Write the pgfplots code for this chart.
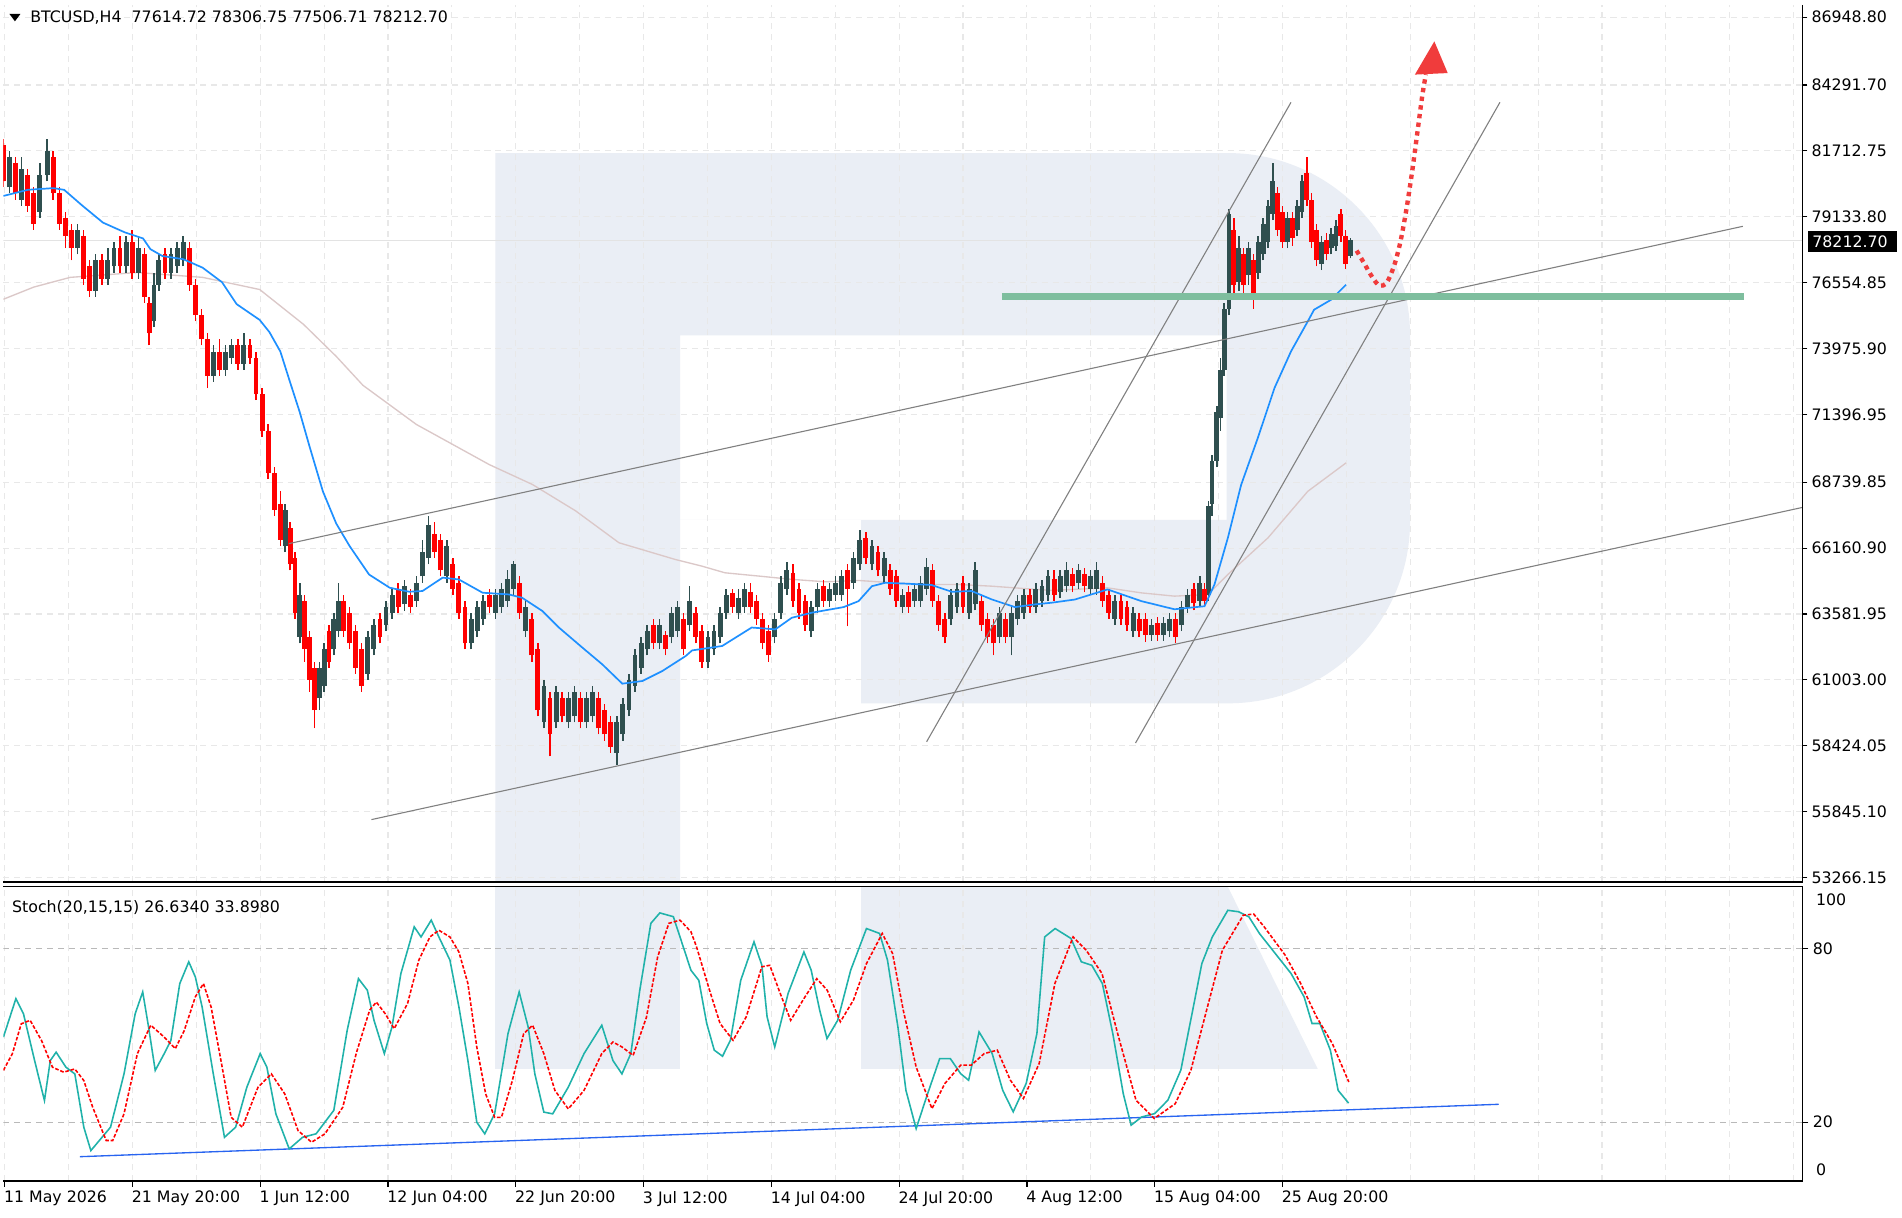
\documentclass[border=0pt]{standalone}
\usepackage{fontspec}
\setmainfont{DejaVu Sans}
\usepackage{pgfplots}
\usepackage{pgfplotstable}
\pgfplotsset{compat=1.18}
\definecolor{bull}{RGB}{47,79,79}
\definecolor{bear}{RGB}{255,0,0}
\definecolor{wm}{RGB}{234,238,245}
\definecolor{ema}{RGB}{30,144,255}
\definecolor{sma}{RGB}{219,200,200}
\definecolor{kline}{RGB}{32,178,170}
\definecolor{lvl}{RGB}{40,100,240}
\definecolor{sup}{RGB}{126,190,158}
\definecolor{grd}{RGB}{232,232,232}
\definecolor{fc}{RGB}{240,60,60}
\definecolor{tl}{RGB}{128,128,128}

\pgfplotstableread{
x o h l c
0 81949 82187 80283 80521
5 80283 81711 80045 81473
10 81235 81473 79807 80045
15 79807 81473 79569 80997
20 80759 80997 79331 79569
25 80045 80283 78617 78855
30 79331 81235 79093 80759
36 80759 82187 80521 81711
41 81473 81711 79807 80045
46 80045 80283 78617 78855
51 79093 79331 77903 78379
56 78617 78855 77427 77903
61 77903 78855 77665 78617
66 78379 78617 76475 76713
71 77189 77427 75999 76237
76 76237 77665 75999 77427
81 77427 77665 76475 76713
86 76713 77903 76475 77427
91 77189 78141 76951 77903
96 77903 78379 76951 77189
101 77189 78379 76951 78141
106 78141 78617 76713 76951
111 76951 78379 76713 77903
116 77665 77903 75761 75999
120 75761 75999 74095 74571
124 75047 76951 74809 76475
128 76475 77665 76237 77427
133 77665 77903 76713 76951
138 76951 77903 76713 77665
143 77189 78141 76951 77903
148 77427 78379 77189 78141
153 77903 78141 76237 76475
158 76475 76713 75047 75285
163 75285 75523 74095 74333
168 74333 74571 72429 72905
173 72905 74095 72667 73857
178 73857 74333 72905 73143
183 73143 74095 72905 73857
188 73619 74333 73381 74095
193 74095 74333 73143 73381
198 73381 74571 73143 74095
203 74095 74333 73381 73619
208 73619 73857 71953 72191
213 72191 72429 70525 70763
218 70763 71001 68859 69097
223 69097 69335 67431 67669
228 67907 68383 66241 66479
232 66241 67907 66003 67669
236 66955 67193 65289 65527
240 65765 66003 63385 63623
244 62671 64813 62433 64337
248 64099 64337 61719 62195
252 62671 62909 60529 61005
256 61481 61719 59101 59815
260 60291 61719 59815 61481
264 60767 62433 60529 62195
268 62909 63147 61481 61719
272 62195 63623 61957 63385
276 62909 64813 62671 64099
280 64099 64337 62671 62909
285 63623 63861 62195 62433
290 62909 63147 61243 61481
295 62195 62433 60529 60767
300 61243 62909 61005 62671
305 62195 63385 61957 63147
310 63385 63623 62433 62671
315 63147 64099 62909 63861
320 63623 64575 63385 64337
325 64575 64813 63623 63861
330 63955 64900 63700 64670
335 64337 64575 63623 63861
340 64099 65051 63861 64813
345 65051 66479 64813 66003
350 65765 67431 65527 67074
355 66717 67193 65765 66003
360 66479 66717 65051 65289
365 65051 66479 64813 66241
370 65527 65765 64337 64575
375 64813 65051 63385 63623
380 63861 64099 62195 62433
385 62433 63623 62195 63385
390 62909 64099 62671 63861
395 63385 64337 63147 64099
400 64337 64575 63623 63861
405 63623 64575 63385 64337
410 63861 64813 63623 64575
415 64099 65289 63861 64956
420 64575 65650 64337 65527
425 64813 65051 63385 63623
430 62909 64099 62671 63861
435 63385 63623 61719 61957
440 62195 62433 59577 59815
445 59339 61005 59101 60767
450 60291 60529 58006 58863
455 59339 60767 59101 60529
460 60291 60529 59339 59577
465 59339 60529 59101 60291
470 59577 60767 59339 60529
475 60291 60529 59101 59339
480 59339 60529 59101 60291
485 59577 60767 59339 60529
490 60291 60529 58863 59101
495 59815 60053 58625 58863
500 59339 59577 58149 58387
505 58149 59577 57673 59339
510 58863 60291 58625 60053
515 59815 61243 59577 61005
520 60767 62195 60529 61957
525 61481 62671 61243 62433
530 62195 63147 61957 62909
535 63147 63385 62195 62433
540 62433 63385 62195 63147
545 62750 62909 61957 62195
550 62671 63861 62433 63623
555 62909 64099 62671 63861
560 63385 63623 61957 62195
565 63147 64670 62909 64099
570 63623 63861 62433 62671
575 62909 63147 61481 61719
580 61719 62909 61481 62671
585 62195 63147 61957 62909
590 62671 63861 62433 63623
595 63623 64575 63385 64337
600 64400 64575 63623 63861
605 63623 64575 63385 64200
610 63861 64813 63623 64575
615 64450 64813 63623 63861
620 64099 64337 63147 63385
625 63385 63623 62195 62433
630 62909 63147 61719 61957
635 62671 63623 62433 63385
640 63623 65051 63385 64813
645 64575 65622 64337 65289
650 65200 65527 63861 64099
655 64575 64813 63385 63623
660 64099 64337 62909 63147
665 62909 64099 62671 63861
670 63861 64813 63623 64575
675 64670 64900 63861 64099
680 64099 64813 63861 64575
685 64337 65051 64099 64813
690 64337 65289 64099 65051
695 65289 65527 63100 64575
700 64813 66003 64575 65765
705 65527 66867 65289 66479
710 66574 66800 65527 65765
715 65527 66479 65289 66241
720 66003 66241 65051 65289
725 65051 66003 64813 65765
730 65289 65527 64337 64575
735 65051 65289 63861 64099
740 63861 64575 63623 64337
745 64430 64670 63623 63861
750 64099 64813 63861 64575
755 64099 65051 63861 64813
760 64575 65765 64337 65432
765 65289 65527 63861 64099
770 64099 64337 62909 63147
775 63385 63623 62433 62671
780 63385 64575 63147 64337
785 63861 64813 63623 64575
790 64813 65051 63623 63861
795 63623 64813 63385 64575
800 63957 65622 63720 65289
805 64099 64337 62909 63147
810 63385 63623 62433 62671
815 63147 63385 61957 62433
820 62671 63861 62433 63623
825 63385 63623 62433 62671
830 62671 63861 61957 63623
835 63385 64337 63147 64099
840 63623 64575 63385 64337
845 64337 64575 63623 63861
850 63861 64813 63623 64575
855 64099 64900 63861 64670
860 64337 65289 64099 65051
865 64956 65289 64099 64337
870 64432 65289 64200 65051
875 64670 65622 64432 65289
880 65146 65400 64432 64670
885 64813 65527 64575 65289
890 65146 65400 64432 64670
895 64575 65289 64337 65051
900 64575 65622 64337 65289
905 64813 65051 63861 64099
910 64337 64575 63385 63623
915 63385 64337 63147 64099
920 64099 64337 63147 63385
925 63861 64099 62909 63147
930 62909 63861 62671 63623
935 63385 63623 62671 62909
940 63385 63623 62480 62770
945 62770 63385 62530 63147
950 63240 63480 62530 62770
955 62770 63480 62530 63240
960 62909 63623 62671 63385
965 63385 63623 62433 62671
970 63147 64099 62909 63861
975 63861 64575 63623 64337
980 64575 64813 63720 64000
985 64099 65051 63861 64813
989 64575 64813 63861 64099
992 64337 68000 64099 67812
995 67907 69811 67431 69573
999 69573 71715 69335 71477
1002 71239 73619 70763 73143
1005 73143 75761 72905 75523
1009 75523 79426 75285 79236
1013 78617 79093 75999 76475
1017 76570 78379 76237 77903
1021 77665 77903 75999 76475
1025 76855 78141 76475 77903
1029 77427 77665 75523 75999
1033 76951 78379 76713 78141
1037 77665 79093 77427 78855
1041 78141 79807 77903 79569
1045 79236 81235 78998 80521
1049 80045 80283 78379 78617
1053 79331 79569 77903 78141
1057 78141 79331 77903 79093
1061 79093 79331 78000 78284
1065 78617 79807 78379 79569
1069 79331 80759 79093 80521
1073 80854 81473 79569 79807
1077 79807 80045 77903 78141
1081 78617 78855 77189 77427
1085 77284 78379 77046 78141
1089 78236 78500 77427 77665
1093 77903 78700 77665 78474
1097 78000 79000 77800 78760
1101 79236 79426 78141 78379
1105 78379 78617 77100 77300
1109 77614.72 78306.75 77506.71 78212.70
}\candles

\pgfplotstableread{
x k
0 49.4
10.3 62.7
16.5 57.5
25.7 41.3
33.8 27.5
38.6 41.3
43.4 44.2
51.5 39
58.8 36.7
66.2 18.3
72 10.2
79 13.7
88.2 18.3
99.3 36.7
108.5 57.5
114.7 65
119.5 52.9
125 37.9
132.4 43.7
137.9 48.3
145.2 67.9
152.6 75.4
158 70.2
163.6 59.8
172.8 36.7
182 14.8
191.2 18.3
200.4 32.1
211.4 43.7
216.9 39
224.3 22.9
235.3 10.8
246.3 14.8
257.4 16
272 24.1
283 51.7
292.3 69.6
299.6 65.6
305.1 55.2
313.6 43.7
319.9 52.9
327.2 71.3
338.2 87.5
343.8 84
352.2 89.8
358.5 84
367.6 76
375 59.8
382.4 41.3
389.7 20
396.3 16
404.4 22.9
415.4 50.6
424.6 65
432 52.9
437.5 36.7
444.9 23.5
452.2 22.9
465 32.1
478 43.7
492.6 53.5
501.8 41.3
509.2 36.7
516.5 43.7
523.9 65.6
533 88.7
540.4 92.3
551.5 91
558.8 81.7
566 72.5
572.5 69
579 54.1
585.2 44.9
592 42.8
598.5 48.3
607 69
617.9 82.3
624.4 74.2
628.7 56.4
635 46
646 64.5
659 78.8
665 72.5
672 58.7
678 48.9
686.8 55.2
697.5 72.5
710.5 86.9
721.3 85.2
727.8 76
736.4 52.9
743 31
751.4 17.8
760 28.8
770.8 42
779.5 42
788 36.8
794.6 34.5
803.2 51.2
814 43.7
822.7 31
831.3 23.6
842 33.4
850.8 50.6
857.2 84
865.8 86.9
878.8 83.5
887.4 75.4
896 74.2
904.7 67.9
913.3 50.6
921.9 29.9
928.4 19
937 21.8
947.8 23
958.6 27.6
969.3 38
978 56.4
986.6 74.8
995.2 84
1008 93.2
1016.8 92.7
1025.4 90.9
1034 85.2
1047 78.3
1060 71.4
1070.8 63.3
1077.3 54.1
1083.8 54.1
1092.4 44.9
1098.8 31
1107.4 26.6
}\stochk

\pgfplotstableread{
x d
0 37.9
7.4 43.7
14.7 54
22 55.2
31.3 48.3
40.4 39
49.6 37.3
58.8 38.4
66.2 34.4
73.5 25.2
84.6 13.7
90 13.7
99.3 22.9
110.3 43.7
121.3 53.5
132.4 49.4
141.5 45.4
148.9 51.7
158 63.3
164.7 67.9
171 59.8
180.1 39
187.5 21.7
196.7 18.3
209.6 32.1
220.6 36.7
231.6 29.8
242.6 17.1
253.7 13.1
264.7 16
279.4 25.2
290.4 43.7
301.5 58.7
307 61.5
314.3 57.5
321.7 52.3
332.7 61
342 76
351.1 84
358.5 86.3
367.6 84
375 78.8
382.4 67.9
389.7 46
397 29.8
404.4 21.7
410 21.7
419 34.4
428.3 50.6
435.7 53.5
444.9 43.7
454 31
465 24.6
478 31
492.6 43.7
501.8 47.7
509.2 46
518.4 43.1
529.4 56.3
538.6 77.1
547.8 88.7
557 89.8
566 85.8
570.6 80.6
581.3 65.6
590 54.1
600.7 48.3
611.5 56.4
624.4 73.7
630.9 74.2
639.5 64.5
648.1 55.2
659 62.7
669.6 69.6
678.2 65.6
689 54.7
699.8 62.2
710.5 74.8
723.5 85.2
732 78.3
740.8 58.7
751.4 39.1
764.4 24.7
775.1 33.4
788 39.7
796.7 39.7
807.4 43.7
818.2 44.9
829 34.5
839.7 28.2
852.7 40.3
865.6 67.9
880.6 84
891.4 79.4
904.4 71.4
917.3 50.6
932.4 27.6
947.4 21.3
964.7 26.4
977.6 38
990.5 58.7
1003.5 79.4
1020.7 91.5
1029.3 91.9
1037.9 87.5
1055.2 77.7
1068 67.9
1081 56.4
1094 47.2
1107.6 33.9
}\stochd

\begin{document}
\begin{tikzpicture}
\begin{scope}[x=1pt,y=1pt]
\useasboundingbox (0,0) rectangle (1563,-998.5);
\fill[white] (0,0) rectangle (1563,-998.5);
% watermark
\fill[wm,even odd rule] (405,-122) -- (1008,-122) arc[start angle=90,end angle=0,radius=150] -- (1158,-425) arc[start angle=0,end angle=-90,radius=150] -- (706,-575) -- (706,-424) -- (557,-424) -- (557,-722) -- (405,-722) -- cycle (557,-272) rectangle (1007,-424);
\fill[wm] (405,-726) rectangle (557,-876);
\fill[wm] (706,-726) -- (1008,-726) -- (1082,-876) -- (706,-876) -- cycle;
\end{scope}

\begin{axis}[
  at={(0pt,-722pt)}, anchor=south west, scale only axis,
  width=1481pt, height=722pt,
  xmin=0, xmax=1481, ymin=53091.7, ymax=87430,
  axis line style={draw=none},
  scaled y ticks=false,
  xtick={1,53.6,106.2,158.8,211.4,264,316.6,369.2,421.8,474.4,527,579.6,632.2,684.8,737.4,790,842.6,895.2,947.8,1000.4,1053,1105.6,1158.2,1210.8,1263.4,1316,1368.6,1421.2,1473.8},
  xticklabels={},
  x tick style={draw=none},
  xmajorgrids, ymajorgrids,
  ytick={53266.15,55845.10,58424.05,61003.00,63581.95,66160.90,68739.85,71396.95,73975.90,76554.85,79133.80,81712.75,84291.70,86948.80},
  yticklabels={53266.15,55845.10,58424.05,61003.00,63581.95,66160.90,68739.85,71396.95,73975.90,76554.85,79133.80,81712.75,84291.70,86948.80},
  ytick pos=right, yticklabel pos=right,
  tick align=outside, major tick length=4pt,
  y tick style={black, line width=0.9pt},
  major grid style={grd, dash pattern=on 5pt off 4pt, line width=0.9pt},
  yticklabel style={font=\fontsize{13}{15}\selectfont, anchor=west, xshift=0pt},
  unbounded coords=discard,
]
% current price line
\addplot[gray!22, line width=0.8pt] coordinates {(0,78212.70) (1481,78212.70)};
% slow MA
\addplot[sma, line width=1.1pt] coordinates {
(0,75904) (25,76380) (55,76761) (110,76951) (164,76761) (211,76285) (247,74923) (274,73667) (296,72534) (340,71001) (400,69430) (435.6,68649) (471,67621) (506.8,66369) (553,65717) (575,65455) (594,65194) (622,65065) (649,64937) (676.6,64842) (704,64894) (731.4,64803) (758.8,64737) (786,64737) (813.6,64670) (841,64575) (863,64504) (909,64604) (936.8,64408) (964,64280) (991.6,64342) (1008,65128) (1041,66560) (1073.8,68383) (1105.3,69497)};
% candles: wicks
\addplot[draw=none, mark=none, error bars/.cd, y dir=plus, y explicit, error mark=none, error bar style={draw=bull, line width=1.2pt, solid}]
  table[x=x, y expr={\thisrow{c}>=\thisrow{o} ? \thisrow{l} : nan}, y error plus expr={\thisrow{h}-\thisrow{l}}] {\candles};
\addplot[draw=none, mark=none, error bars/.cd, y dir=plus, y explicit, error mark=none, error bar style={draw=bear, line width=1.2pt, solid}]
  table[x=x, y expr={\thisrow{c}<\thisrow{o} ? \thisrow{l} : nan}, y error plus expr={\thisrow{h}-\thisrow{l}}] {\candles};
% bodies
\addplot[draw=none, mark=none, error bars/.cd, y dir=plus, y explicit, error mark=none, error bar style={draw=bull, line width=4pt, solid, line cap=butt}]
  table[x=x, y expr={\thisrow{c}>=\thisrow{o} ? \thisrow{o} : nan}, y error plus expr={\thisrow{c}-\thisrow{o}}] {\candles};
\addplot[draw=none, mark=none, error bars/.cd, y dir=plus, y explicit, error mark=none, error bar style={draw=bear, line width=4pt, solid, line cap=butt}]
  table[x=x, y expr={\thisrow{c}<\thisrow{o} ? \thisrow{c} : nan}, y error plus expr={\thisrow{o}-\thisrow{c}}] {\candles};
% fast MA
\addplot[ema, line width=1.4pt] coordinates {
(0,79950) (20,80188) (41,80255) (50,80188) (65,79569) (82,78903) (100,78522) (115,78284) (121,77865) (131,77594) (148,77474) (164,77140) (180,76570) (192,75713) (211,75094) (219,74618) (228,73857) (235.6,72715) (244,71477) (252,70144) (263,68383) (274,67122) (285,66241) (301,65127) (318,64609) (334,64452) (345,64480) (361.6,65004) (375,64932) (394.5,64414) (416,64347) (427,64218) (443.8,63695) (457.5,63043) (476.7,62262) (493,61610) (509.5,60853) (526,60957) (542.4,61347) (561.6,61933) (567,62156) (591.7,62328) (616,63051) (635.5,62980) (649,63433) (665.6,63633) (691.7,63851) (704,64084) (715,64670) (726,64803) (745,64765) (764,64718) (780.7,64451) (797,64480) (813.6,64152) (832.7,63851) (849,63956) (863,64023) (882,64147) (909,64542) (936.8,64085) (964,63766) (988.8,63885) (997,64737) (1008,66560) (1019,68645) (1032.7,70477) (1046.4,72429) (1060,73862) (1073.8,75038) (1079,75494) (1093,75885) (1105.3,76475)};
% trend lines
\addplot[tl, line width=0.9pt] coordinates {(235,66336) (1432,78760)};
\addplot[tl, line width=0.9pt] coordinates {(303,55531) (1483,67774)};
\addplot[tl, line width=0.9pt] coordinates {(760,58577) (1060,83615)};
\addplot[tl, line width=0.9pt] coordinates {(932,58530) (1232,83615)};
% support
\addplot[sup, line width=5.5pt] coordinates {(822,75999) (1433,75999)};
% forecast
\addplot[fc, line width=3.6pt, dash pattern=on 3.6pt off 3.6pt, smooth] coordinates {(1114,77808) (1120,77331) (1127,76761) (1133,76428) (1139,76570) (1145,77237) (1150,78141) (1155,79426) (1160,80997) (1164,82425) (1168,83853) (1171,84710)};
\fill[fc] (1178,86000) -- (1162,84700) -- (1189,84760) -- cycle;
\end{axis}

\begin{axis}[
  at={(0pt,-968pt)}, anchor=south west, scale only axis,
  width=1481pt, height=242.4pt,
  xmin=0, xmax=1481, ymin=-0.2, ymax=101.5,
  axis line style={draw=none},
  xtick={1,106.2,211.4,316.6,421.8,527,632.2,737.4,842.6,947.8,1053},
  xticklabels={11 May 2026,21 May 20:00,1 Jun 12:00,12 Jun 04:00,22 Jun 20:00,3 Jul 12:00,14 Jul 04:00,24 Jul 20:00,4 Aug 12:00,15 Aug 04:00,25 Aug 20:00},
  minor xtick={53.6,158.8,264,369.2,474.4,579.6,684.8,790,895.2,1000.4,1105.6,1158.2,1210.8,1263.4,1316,1368.6,1421.2,1473.8},
  xmajorgrids, xminorgrids,
  major grid style={grd, dash pattern=on 5pt off 4pt, line width=0.9pt},
  minor grid style={grd, dash pattern=on 5pt off 4pt, line width=0.9pt},
  xtick pos=bottom, ytick pos=right, yticklabel pos=right,
  ytick={20,80}, yticklabels={20,80},
  tick align=outside, major tick length=5pt, minor tick length=0pt,
  tick style={black, line width=1pt},
  xticklabel style={font=\fontsize{13}{15}\selectfont, anchor=north west, xshift=-4pt},
  yticklabel style={font=\fontsize{13}{15}\selectfont, anchor=west},
]
\addplot[gray!55, line width=1pt, dash pattern=on 5pt off 4pt] coordinates {(0,80) (1481,80)};
\addplot[gray!55, line width=1pt, dash pattern=on 5pt off 4pt] coordinates {(0,20) (1481,20)};
\addplot[lvl, line width=1.1pt] coordinates {(63,8.1) (1231,26.2)};
\addplot[kline, line width=1.3pt] table[x=x, y=k] {\stochk};
\addplot[bear, line width=1.3pt, dash pattern=on 3pt off 1.5pt] table[x=x, y=d] {\stochd};
\end{axis}

\begin{scope}[x=1pt,y=1pt]
% borders
\draw[black, line width=1.3pt] (1481,0) -- (1481,-722) -- (0,-722);
\draw[black, line width=1.3pt] (0,-725.8) -- (1481,-725.8) -- (1481,-968) -- (0,-968);
% price box
\fill[black] (1486,-186.5) rectangle (1559,-203.5);
\node[white, anchor=west, inner sep=0pt, font=\fontsize{13}{15}\selectfont] at (1489,-195) {78212.70};
% header
\fill[black] (5,-7.5) -- (14,-7.5) -- (9.5,-13.5) -- cycle;
\node[anchor=west, inner sep=0pt, font=\fontsize{13}{15}\selectfont] at (22,-10.5) {BTCUSD,H4\ \ 77614.72 78306.75 77506.71 78212.70};
% stoch label
\node[anchor=west, inner sep=0pt, font=\fontsize{13}{15}\selectfont] at (7,-743) {Stoch(20,15,15) 26.6340 33.8980};
\node[anchor=west, inner sep=0pt, font=\fontsize{13}{15}\selectfont] at (1492,-737) {100};
\node[anchor=west, inner sep=0pt, font=\fontsize{13}{15}\selectfont] at (1492,-959) {0};
\end{scope}
\end{tikzpicture}
\end{document}
